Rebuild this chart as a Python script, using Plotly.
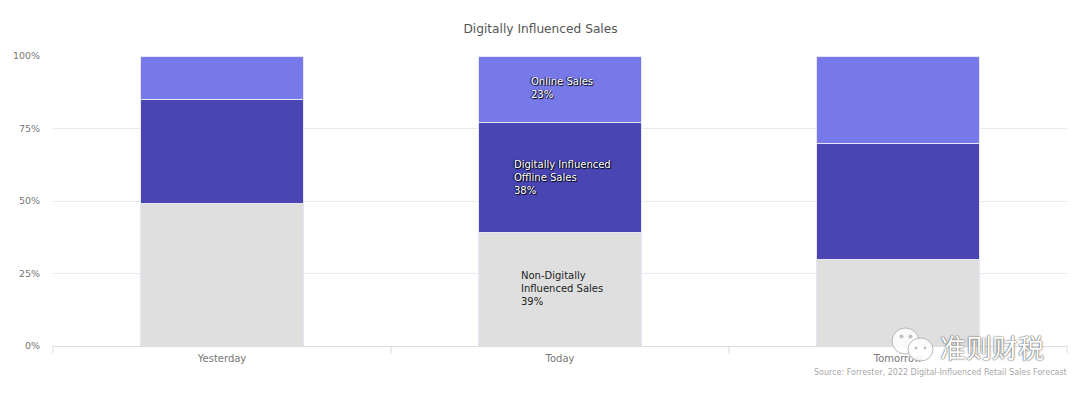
import plotly.graph_objects as go

categories = ["Yesterday", "Today", "Tomorrow"]
non_digital = [49, 39, 30]
digital_offline = [36, 38, 40]
online = [15, 23, 30]
y_ticks = [0, 25, 50, 75, 100]
y_tick_labels = ["0%", "25%", "50%", "75%", "100%"]

FONT = "DejaVu Sans"
W, H = 1080, 394
L, R, T, B = 53, 1067, 56, 346

fig = go.Figure()
for name, vals, col in [
    ("Non-Digitally Influenced Sales", non_digital, "#dfdfdf"),
    ("Digitally Influenced Offline Sales", digital_offline, "#4946b4"),
    ("Online Sales", online, "#7879e9"),
]:
    fig.add_bar(x=categories, y=vals, name=name, width=0.48,
                marker=dict(color=col, line=dict(color="#e6e6f5", width=1)))

def px(x):
    return (x - L) / (R - L)
def py(y):
    return (B - y) / (B - T)

SH = "1px 1px 1px #000, -1px 0 1px #000"
annos = [
    dict(text="Online Sales<br>23%", x=529, y=88.5, color="#ffffff", shadow=SH),
    dict(text="Digitally Influenced<br>Offline Sales<br>38%", x=512, y=177, color="#ffffff", shadow=SH),
    dict(text="Non-Digitally<br>Influenced Sales<br>39%", x=519, y=288, color="#222222", shadow="none"),
]
annotations = [
    dict(text=a["text"], xref="paper", yref="paper", x=px(a["x"]), y=py(a["y"]),
         xanchor="left", yanchor="middle", align="left", showarrow=False,
         font=dict(family=FONT, size=10, color=a["color"], shadow=a["shadow"]))
    for a in annos
]
annotations += [
    dict(text="Source: Forrester, 2022 Digital-Influenced Retail Sales Forecast",
         xref="paper", yref="paper", x=px(1069), y=py(372.5), xanchor="right", yanchor="middle",
         showarrow=False, font=dict(family=FONT, size=8, color="#a8a8a8")),
    dict(text="准则财税", xref="paper", yref="paper", x=px(992), y=py(346),
         xanchor="center", yanchor="middle", showarrow=False,
         font=dict(family="Noto Sans CJK SC", size=26, color="#ffffff",
                   shadow="0 0 2px #555, 0 0 1px #555")),
]

def circ(x0, x1, y0, y1, fill="rgba(255,255,255,0.85)", line="#b8b8b8"):
    return dict(type="circle", xref="paper", yref="paper", x0=px(x0), x1=px(x1), y0=py(y1), y1=py(y0),
                fillcolor=fill, line=dict(color=line, width=1), layer="above")

def vtick(x):
    return dict(type="line", xref="paper", yref="paper", x0=x, x1=x, y0=py(346), y1=py(353),
                line=dict(color="#d8d8d8", width=1))

shapes = [vtick(0), vtick(1/3), vtick(2/3), vtick(1),
          circ(892, 919, 328, 354), circ(908, 933, 338, 361),
          circ(900, 903, 335, 338, "#c0c0c0"), circ(909, 912, 335, 338, "#c0c0c0"),
          circ(915, 917, 347, 349, "#c0c0c0"), circ(924, 926, 347, 349, "#c0c0c0")]

fig.update_layout(
    width=W, height=H, autosize=False, barmode="stack", showlegend=False,
    margin=dict(l=L, r=W - R, t=T, b=H - B),
    paper_bgcolor="#ffffff", plot_bgcolor="#ffffff",
    font=dict(family=FONT, size=10, color="#777777"),
    title=dict(text="Digitally Influenced Sales", x=540.5 / W, xanchor="center",
               y=1 - 28.5 / H, yanchor="middle", font=dict(family=FONT, size=12.2, color="#555555")),
    annotations=annotations, shapes=shapes,
)
fig.update_xaxes(range=[-0.5, 2.5], showgrid=False, showline=True, linecolor="#dcdce4", linewidth=1,
                 ticks="outside", ticklen=3, tickcolor="rgba(0,0,0,0)",
                 tickfont=dict(size=10, color="#777777"))
fig.update_yaxes(range=[0, 100], tickvals=y_ticks, ticktext=y_tick_labels, gridcolor="#e9e9ee",
                 gridwidth=1, zeroline=False, ticks="outside", ticklen=10, tickcolor="rgba(0,0,0,0)",
                 tickfont=dict(size=9.5, color="#777777"))

fig.write_html("out.html", config={"displayModeBar": False},
               post_script="document.body.style.margin='0';")
